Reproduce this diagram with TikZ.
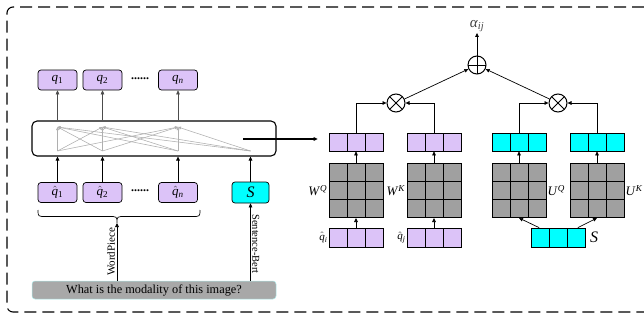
\documentclass[tikz,border=0pt]{standalone}
\usepackage{fontspec}
\setmainfont{Liberation Serif}
\usetikzlibrary{arrows.meta}
\definecolor{lav}{RGB}{220,195,248}
\definecolor{cyn}{RGB}{0,255,255}
\definecolor{mgray}{RGB}{160,160,160}
\definecolor{tgray}{RGB}{168,168,168}
\definecolor{lcyan}{RGB}{175,235,235}
\definecolor{lgray}{RGB}{175,175,175}
\newcommand{\itq}[1]{\textit{q}\textsubscript{#1}}
\newcommand{\itqh}[1]{$\hat{\hbox{\itshape q}}$\textsubscript{#1}}
\begin{document}
\begin{tikzpicture}[x=1pt,y=-1pt,
  arr/.style={-{Triangle[length=4pt,width=3.6pt]}, line width=0.7pt},
  garr/.style={-{Triangle[length=3pt,width=2.6pt]}, draw=lgray, line width=0.55pt},
  tok/.style={draw, rounded corners=3pt, fill=lav, minimum width=39pt, minimum height=20pt, inner sep=0pt, line width=0.7pt, font=\fontsize{13}{14}\selectfont},
  vecbox/.style={draw, minimum width=54pt, minimum height=18pt, inner sep=0pt, line width=0.7pt,
    path picture={\foreach \i in {1,2} \draw[line width=0.7pt] ([xshift=\i*18pt]path picture bounding box.north west) -- ([xshift=\i*18pt]path picture bounding box.south west);}},
  matbox/.style={draw, fill=mgray, minimum width=54pt, minimum height=54pt, inner sep=0pt, line width=1pt,
    path picture={\foreach \i in {1,2} {\draw[line width=1pt] ([xshift=\i*18pt]path picture bounding box.north west) -- ([xshift=\i*18pt]path picture bounding box.south west);
      \draw[line width=1pt] ([yshift=-\i*18pt]path picture bounding box.north west) -- ([yshift=-\i*18pt]path picture bounding box.north east);}}},
  opl/.style={draw, circle, minimum size=18pt, inner sep=0pt, line width=1pt,
    path picture={\draw[line width=1pt] (path picture bounding box.north) -- (path picture bounding box.south) (path picture bounding box.west) -- (path picture bounding box.east);}},
  otm/.style={draw, circle, minimum size=18pt, inner sep=0pt, line width=1pt,
    path picture={\draw[line width=1pt] (path picture bounding box.north west) -- (path picture bounding box.south east) (path picture bounding box.south west) -- (path picture bounding box.north east);}},
  lab/.style={inner sep=1pt, font=\fontsize{13}{14}\selectfont}
]
\useasboundingbox (0,0) rectangle (644,324);
% dashed frame (its right side lies outside the picture)
\draw[line width=1.1pt, dash pattern=on 12pt off 6pt, rounded corners=6pt] (644,7) -- (7,7) -- (7,312) -- (644,312);

% left part
\node[tok] (q1) at (57.5,80) {\itq{1}};
\node[tok] (q2) at (102.5,80) {\itq{2}};
\node[tok] (qn) at (178,80) {\itq{\textit{n}}};
\node (qd) at (140,78.5) {\textbf{\large ......}};

\node[draw, rounded corners=5pt, fill=white, minimum width=244pt, minimum height=35pt, line width=1.1pt] (T) at (154,138.5) {};

\node[tok] (h1) at (57.5,192.5) {\itqh{1}};
\node[tok] (h2) at (102.5,192.5) {\itqh{2}};
\node[tok] (hn) at (178,192.5) {\itqh{\textit{n}}};
\node (hd) at (140,191) {\textbf{\large ......}};
\node[tok, fill=cyn, minimum width=37pt, minimum height=21pt, font=\fontsize{16}{18}\selectfont] (S) at (250.5,192.5) {\textit{S}};

% internal attention lines
\coordinate (t1) at (57.5,127); \coordinate (t2) at (102.5,127); \coordinate (t3) at (178,127);
\coordinate (b1) at (57.5,151); \coordinate (b2) at (102.5,151); \coordinate (b3) at (178,151); \coordinate (b4) at (250.5,151);
\foreach \b in {b1,b2,b3,b4} \foreach \t in {t1,t2,t3} \draw[garr] (\b) -- (\t);

\foreach \n in {q1,q2,qn} \draw[arr, draw=black!70] (\n.south |- T.north) -- (\n.south);
\foreach \n in {h1,h2,hn,S} \draw[arr] (\n.north) -- (\n.north |- T.south);

% brace
\coordinate (btip) at (117,223);
\draw[line width=0.7pt] (38,210) .. controls (38,216.5) .. (46,216.5) -- (109,216.5) .. controls (117,216.5) .. (btip)
  .. controls (117,216.5) .. (125,216.5) -- (192,216.5) .. controls (200,216.5) .. (200,210);

\node[draw=lcyan, fill=tgray, rounded corners=3pt, minimum width=244pt, minimum height=18pt, inner sep=0pt, line width=0.5pt, font=\fontsize{12.3}{14}\selectfont] (Q) at (154,290) {What is the modality of this image?};

\draw[arr] (Q.north -| btip) -- node[pos=0.5, sloped, above, inner sep=1.5pt, font=\fontsize{11}{12}\selectfont] {WordPiece} (btip);
\draw[arr] (Q.north -| S.south) -- (S.south);
\node[rotate=-90, anchor=south, inner sep=1.5pt, font=\fontsize{10.5}{12}\selectfont] (sb) at (250.5,244) {Sentence-Bert};

% right part
\coordinate (tout) at (243,139);
\node[vecbox, fill=lav] (P1) at (356,142) {};
\node[vecbox, fill=lav] (P2) at (434,142) {};
\node[vecbox, fill=cyn] (C1) at (519,142) {};
\node[vecbox, fill=cyn] (C2) at (597,142) {};
\draw[arr, line width=1.1pt] (tout) -- ([xshift=-11pt]P1.west |- tout);

\node[matbox] (M1) at (356,190.5) {};
\node[matbox] (M2) at (434,190.5) {};
\node[matbox] (M3) at (519,190.5) {};
\node[matbox] (M4) at (597,190.5) {};

\node[vecbox, fill=lav, minimum height=19pt] (vi) at (356,237.5) {};
\node[vecbox, fill=lav, minimum height=19pt] (vj) at (434,237.5) {};
\node[vecbox, fill=cyn, minimum height=19pt] (vs) at (558.5,237.5) {};

\node[lab, anchor=east] (lwq) at (M1.west) {\textit{W}\textsuperscript{\textit{Q}}};
\node[lab, anchor=east] (lwk) at (M2.west) {\textit{W}\textsuperscript{\textit{K}}};
\node[lab, anchor=west] (luq) at (M3.east) {\textit{U}\textsuperscript{\textit{Q}}};
\node[lab, anchor=west] (luk) at (M4.east) {\textit{U}\textsuperscript{\textit{K}}};
\node[lab, anchor=east, font=\fontsize{11}{12}\selectfont] (lqi) at (vi.west) {\itqh{\textit{i}}};
\node[lab, anchor=east, font=\fontsize{11}{12}\selectfont] (lqj) at (vj.west) {\itqh{\textit{j}}};
\node[lab, anchor=west, font=\fontsize{16}{18}\selectfont, inner sep=4pt] (ls) at (vs.east) {\textit{S}};

\foreach \a/\b in {vi/M1, vj/M2} \draw[arr] (\a.north) -- (\b.south);
\foreach \a/\b in {M1/P1, M2/P2, M3/C1, M4/C2} \draw[arr] (\a.north) -- (\b.south);
\draw[arr] ([xshift=8pt]vs.north west) -- (M3.south);
\draw[arr] ([xshift=-8pt]vs.north east) -- (M4.south);

\node[otm] (o1) at (396,103) {};
\node[otm] (o2) at (558,103) {};
\node[opl] (op) at (477,65) {};
\node[text=black!75, font=\fontsize{15}{16}\selectfont, inner sep=1pt] (al) at (477,26) {\textit{α}\textsubscript{\textit{ij}}};

\draw[arr] (P1.north) |- (o1.west);
\draw[arr] (P2.north) |- (o1.east);
\draw[arr] (C1.north) |- (o2.west);
\draw[arr] (C2.north) |- (o2.east);
\draw[arr] (o1) -- (op);
\draw[arr] (o2) -- (op);
\draw[arr] (op.north) -- (al.south);
\end{tikzpicture}
\end{document}
